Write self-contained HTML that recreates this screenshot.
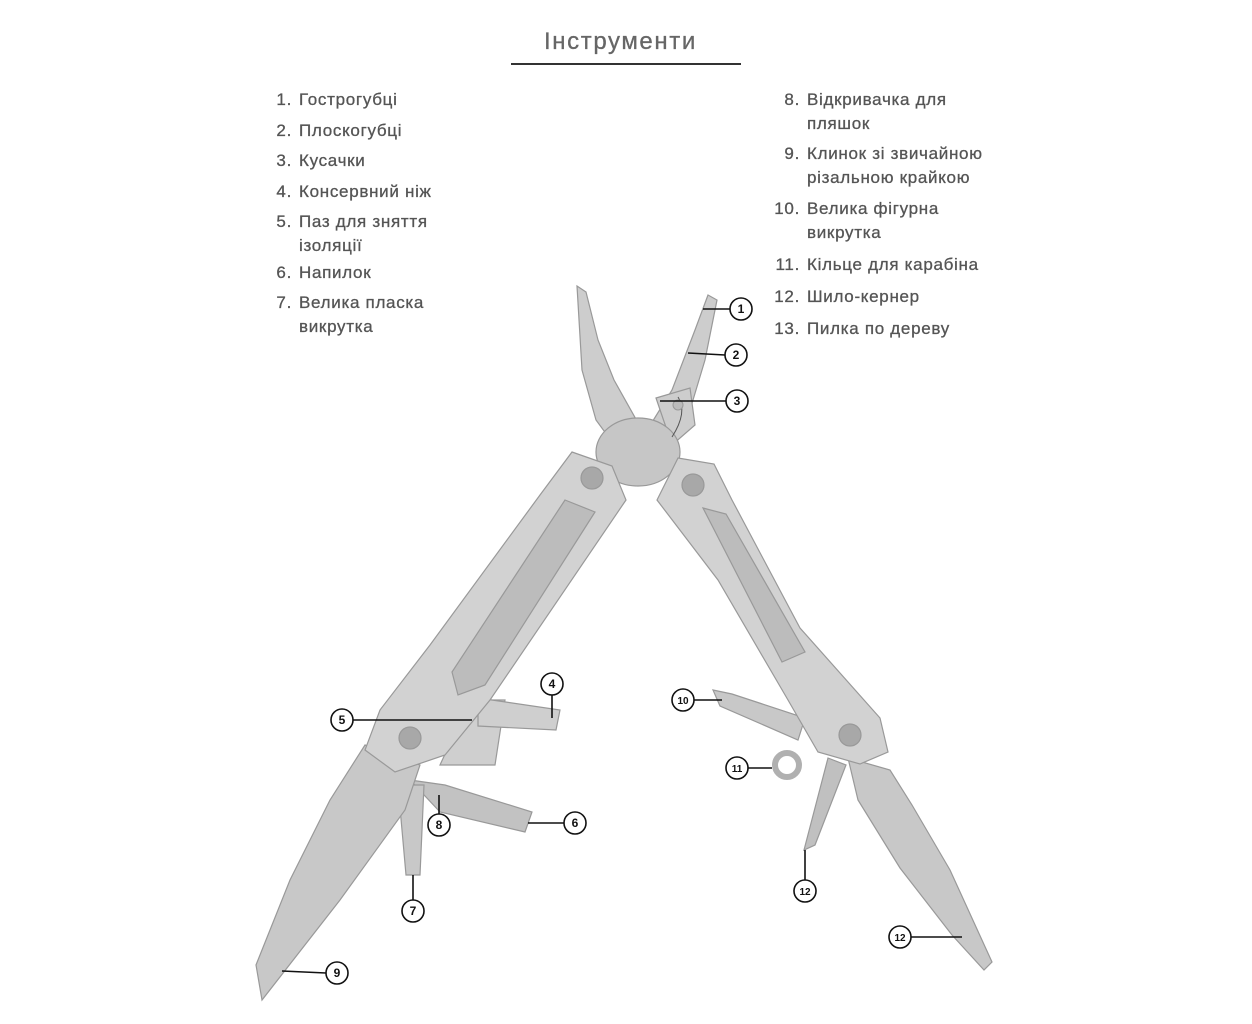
<!DOCTYPE html>
<html><head><meta charset="utf-8"><style>
body{margin:0;width:1252px;height:1024px;background:#fff;position:relative;overflow:hidden;font-family:"Liberation Sans","DejaVu Sans",sans-serif;color:#555}
.t{position:absolute;font-size:17px;line-height:24px;white-space:nowrap;letter-spacing:0.7px;-webkit-text-stroke:0.3px #555}
.n{position:absolute;text-align:right;width:40px}
</style></head><body>
<div class="t" style="left:544px;top:30px;font-size:24px;color:#666;letter-spacing:1.6px;-webkit-text-stroke:0.3px #666">Інструменти</div>
<div style="position:absolute;left:511px;top:63px;width:230px;height:2px;background:#333"></div>

<div class="t" style="left:252px;top:88px"><span class="n" style="left:0">1.</span><span style="position:absolute;left:47px">Гострогубці</span></div>
<div class="t" style="left:252px;top:119px"><span class="n" style="left:0">2.</span><span style="position:absolute;left:47px">Плоскогубці</span></div>
<div class="t" style="left:252px;top:149px"><span class="n" style="left:0">3.</span><span style="position:absolute;left:47px">Кусачки</span></div>
<div class="t" style="left:252px;top:180px"><span class="n" style="left:0">4.</span><span style="position:absolute;left:47px">Консервний ніж</span></div>
<div class="t" style="left:252px;top:210px"><span class="n" style="left:0">5.</span><span style="position:absolute;left:47px">Паз для зняття<br>ізоляції</span></div>
<div class="t" style="left:252px;top:261px"><span class="n" style="left:0">6.</span><span style="position:absolute;left:47px">Напилок</span></div>
<div class="t" style="left:252px;top:291px"><span class="n" style="left:0">7.</span><span style="position:absolute;left:47px">Велика пласка<br>викрутка</span></div>

<div class="t" style="left:760px;top:88px"><span class="n" style="left:0">8.</span><span style="position:absolute;left:47px">Відкривачка для<br>пляшок</span></div>
<div class="t" style="left:760px;top:142px"><span class="n" style="left:0">9.</span><span style="position:absolute;left:47px">Клинок зі звичайною<br>різальною крайкою</span></div>
<div class="t" style="left:760px;top:197px"><span class="n" style="left:0">10.</span><span style="position:absolute;left:47px">Велика фігурна<br>викрутка</span></div>
<div class="t" style="left:760px;top:253px"><span class="n" style="left:0">11.</span><span style="position:absolute;left:47px">Кільце для карабіна</span></div>
<div class="t" style="left:760px;top:285px"><span class="n" style="left:0">12.</span><span style="position:absolute;left:47px">Шило-кернер</span></div>
<div class="t" style="left:760px;top:317px"><span class="n" style="left:0">13.</span><span style="position:absolute;left:47px">Пилка по дереву</span></div>

<svg width="1252" height="1024" style="position:absolute;left:0;top:0">
<g stroke="#999" stroke-width="1.2" fill="#cdcdcd">
<polygon points="577,286 586,292 598,340 614,380 642,430 618,450 596,420 582,370"/>
<polygon points="708,295 717,300 705,360 690,410 665,445 646,432 672,390 695,330"/>
<polygon points="656,398 690,388 695,425 672,445"/>
<ellipse cx="638" cy="452" rx="42" ry="34" fill="#c6c6c6"/>
<polygon points="410,780 445,785 532,812 525,832 440,812" fill="#c2c2c2"/>
<polygon points="398,785 424,785 420,875 406,875" fill="#c8c8c8"/>
<polygon points="440,765 470,700 505,700 495,765" fill="#cfcfcf"/>
<polygon points="478,698 560,710 556,730 478,726" fill="#cfcfcf"/>
<polygon points="365,745 420,765 405,810 340,900 262,1000 256,965 290,880 330,800" fill="#c8c8c8"/>
<polygon points="572,452 612,466 626,500 490,700 445,755 395,772 365,750 380,710 430,645 540,495" fill="#d2d2d2"/>
<polygon points="565,500 595,512 485,685 458,695 452,672" fill="#bcbcbc"/>
<circle cx="592" cy="478" r="11" fill="#a8a8a8"/>
<circle cx="410" cy="738" r="11" fill="#a8a8a8"/>
<polygon points="713,690 732,694 805,718 798,740 720,706" fill="#c8c8c8"/>
<circle cx="787" cy="765" r="12" fill="none" stroke="#b0b0b0" stroke-width="6"/>
<polygon points="828,758 846,765 815,845 804,850" fill="#c0c0c0"/>
<polygon points="848,758 890,770 912,805 950,870 992,962 984,970 952,935 900,868 858,800" fill="#c8c8c8"/>
<polygon points="678,458 714,464 732,500 800,628 880,718 888,752 860,764 818,752 788,700 718,580 657,500" fill="#d2d2d2"/>
<polygon points="703,508 726,514 805,652 782,662" fill="#bcbcbc"/>
<circle cx="693" cy="485" r="11" fill="#a8a8a8"/>
<circle cx="850" cy="735" r="11" fill="#a8a8a8"/>
</g>
<path d="M678,397 q10,15 -6,40" fill="none" stroke="#555" stroke-width="1"/>
<circle cx="678" cy="405" r="5" fill="#bbb" stroke="#999"/>
<g stroke="#111" stroke-width="1.6" fill="none">
<line x1="703" y1="309" x2="730" y2="309"/>
<line x1="688" y1="353" x2="725" y2="355"/>
<line x1="660" y1="401" x2="726" y2="401"/>
<line x1="552" y1="695" x2="552" y2="718"/>
<line x1="353" y1="720" x2="472" y2="720"/>
<line x1="528" y1="823" x2="564" y2="823"/>
<line x1="413" y1="875" x2="413" y2="900"/>
<line x1="439" y1="795" x2="439" y2="814"/>
<line x1="282" y1="971" x2="326" y2="973"/>
<line x1="694" y1="700" x2="722" y2="700"/>
<line x1="748" y1="768" x2="772" y2="768"/>
<line x1="805" y1="850" x2="805" y2="880"/>
<line x1="911" y1="937" x2="962" y2="937"/>
</g>
<g font-family="Liberation Sans,sans-serif" font-size="12" font-weight="bold" fill="#111" text-anchor="middle">
<g stroke="#111" stroke-width="1.6" fill="#fff">
<circle cx="741" cy="309" r="11"/><circle cx="736" cy="355" r="11"/><circle cx="737" cy="401" r="11"/>
<circle cx="552" cy="684" r="11"/><circle cx="342" cy="720" r="11"/><circle cx="575" cy="823" r="11"/>
<circle cx="413" cy="911" r="11"/><circle cx="439" cy="825" r="11"/><circle cx="337" cy="973" r="11"/>
<circle cx="683" cy="700" r="11"/><circle cx="737" cy="768" r="11"/><circle cx="805" cy="891" r="11"/>
<circle cx="900" cy="937" r="11"/>
</g>
<text x="741" y="313">1</text><text x="736" y="359">2</text><text x="737" y="405">3</text>
<text x="552" y="688">4</text><text x="342" y="724">5</text><text x="575" y="827">6</text>
<text x="413" y="915">7</text><text x="439" y="829">8</text><text x="337" y="977">9</text>
<text x="683" y="704" font-size="10">10</text><text x="737" y="772" font-size="10">11</text>
<text x="805" y="895" font-size="10">12</text><text x="900" y="941" font-size="10">12</text>
</g>
</svg>
</body></html>
